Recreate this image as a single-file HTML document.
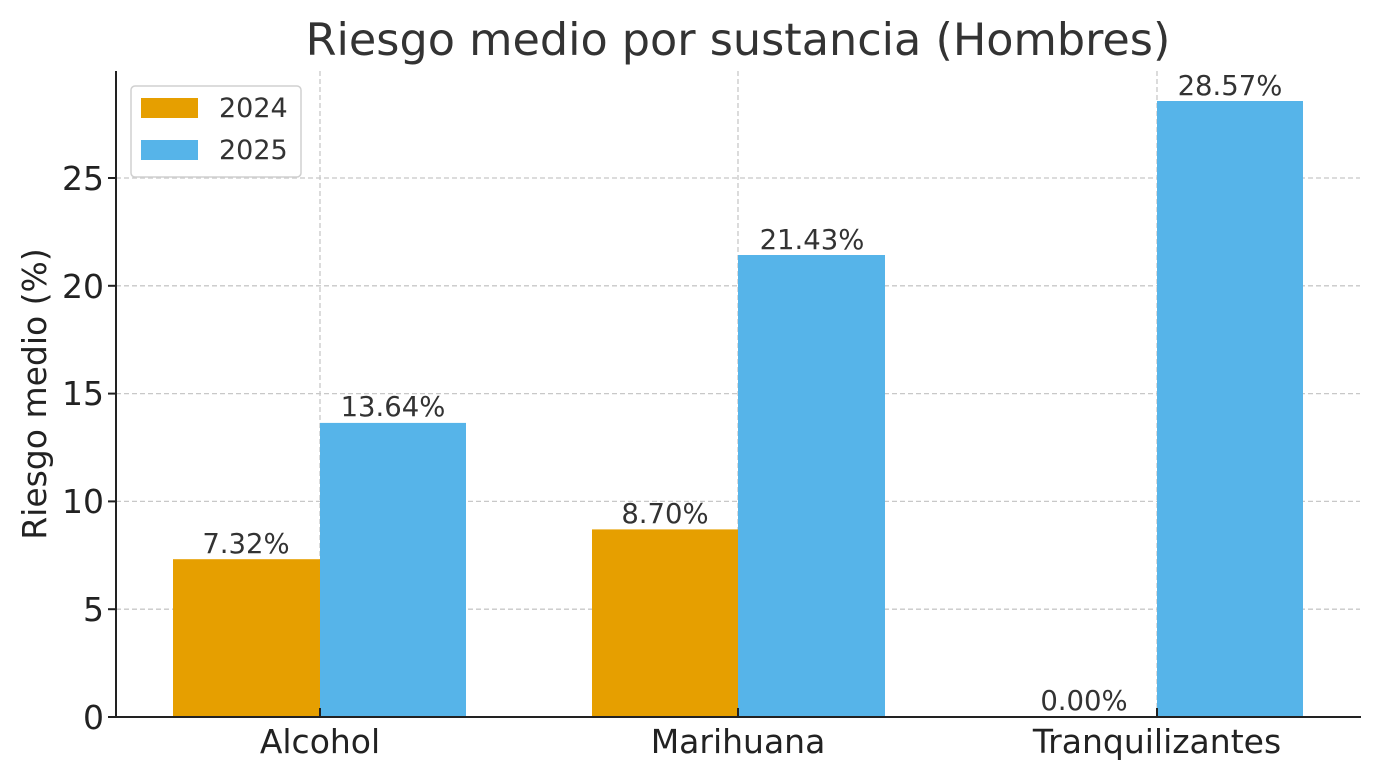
<!DOCTYPE html>
<html><head><meta charset="utf-8"><style>body{margin:0;background:#fff}svg{display:block}text{font-family:"DejaVu Sans","Liberation Sans",sans-serif;fill:#333}</style></head>
<body>
<svg width="1380" height="780" viewBox="0 0 1380 780" xmlns="http://www.w3.org/2000/svg">
<rect width="1380" height="780" fill="#fff"/>
<g stroke="#c8c8c8" stroke-width="1.3" stroke-dasharray="5,3">
<line x1="116" x2="1360" y1="609.2" y2="609.2"/>
<line x1="116" x2="1360" y1="501.4" y2="501.4"/>
<line x1="116" x2="1360" y1="393.6" y2="393.6"/>
<line x1="116" x2="1360" y1="285.8" y2="285.8"/>
<line x1="116" x2="1360" y1="178" y2="178"/>
<line x1="320" x2="320" y1="71" y2="717"/>
<line x1="738" x2="738" y1="71" y2="717"/>
<line x1="1157" x2="1157" y1="71" y2="717"/>
</g>
<rect x="173" y="559.2" width="147" height="157.8" fill="#E69F00"/>
<rect x="320" y="422.9" width="146" height="294.1" fill="#56B4E9"/>
<rect x="592" y="529.4" width="146" height="187.6" fill="#E69F00"/>
<rect x="738" y="255" width="147" height="462" fill="#56B4E9"/>
<rect x="1157" y="101" width="146" height="616" fill="#56B4E9"/>
<g font-size="27.5" text-anchor="middle">
<text x="246" y="553">7.32%</text>
<text x="393" y="416">13.64%</text>
<text x="665" y="523">8.70%</text>
<text x="812" y="249">21.43%</text>
<text x="1084" y="710">0.00%</text>
<text x="1230" y="95">28.57%</text>
</g>
<g stroke="#222" stroke-width="2" fill="none">
<line x1="116" x2="116" y1="71" y2="718"/>
<line x1="115" x2="1361" y1="717" y2="717"/>
<line x1="108" x2="116" y1="717" y2="717"/>
<line x1="108" x2="116" y1="609.2" y2="609.2"/>
<line x1="108" x2="116" y1="501.4" y2="501.4"/>
<line x1="108" x2="116" y1="393.6" y2="393.6"/>
<line x1="108" x2="116" y1="285.8" y2="285.8"/>
<line x1="108" x2="116" y1="178" y2="178"/>
<line x1="320" x2="320" y1="717" y2="708"/>
<line x1="738" x2="738" y1="717" y2="708"/>
<line x1="1157" x2="1157" y1="717" y2="708"/>
</g>
<g font-size="33" text-anchor="end">
<text x="104" y="729" style="fill:#222">0</text>
<text x="104" y="621" style="fill:#222">5</text>
<text x="104" y="513" style="fill:#222">10</text>
<text x="104" y="405" style="fill:#222">15</text>
<text x="104" y="298" style="fill:#222">20</text>
<text x="104" y="190" style="fill:#222">25</text>
</g>
<g font-size="33" text-anchor="middle">
<text x="320" y="753" style="fill:#222">Alcohol</text>
<text x="738" y="753" style="fill:#222">Marihuana</text>
<text x="1157" y="753" style="fill:#222">Tranquilizantes</text>
</g>
<text x="738" y="55" font-size="44.5" text-anchor="middle">Riesgo medio por sustancia (Hombres)</text>
<text transform="translate(46,394) rotate(-90)" font-size="33" text-anchor="middle" style="fill:#222">Riesgo medio (%)</text>
<rect x="131" y="86" width="170" height="91" rx="4" fill="#fff" stroke="#d0d0d0" stroke-width="1.5"/>
<rect x="141" y="98" width="57" height="20" fill="#E69F00"/>
<rect x="141" y="140" width="57" height="20" fill="#56B4E9"/>
<text x="219" y="117" font-size="27">2024</text>
<text x="219" y="159" font-size="27">2025</text>
</svg>
</body></html>
